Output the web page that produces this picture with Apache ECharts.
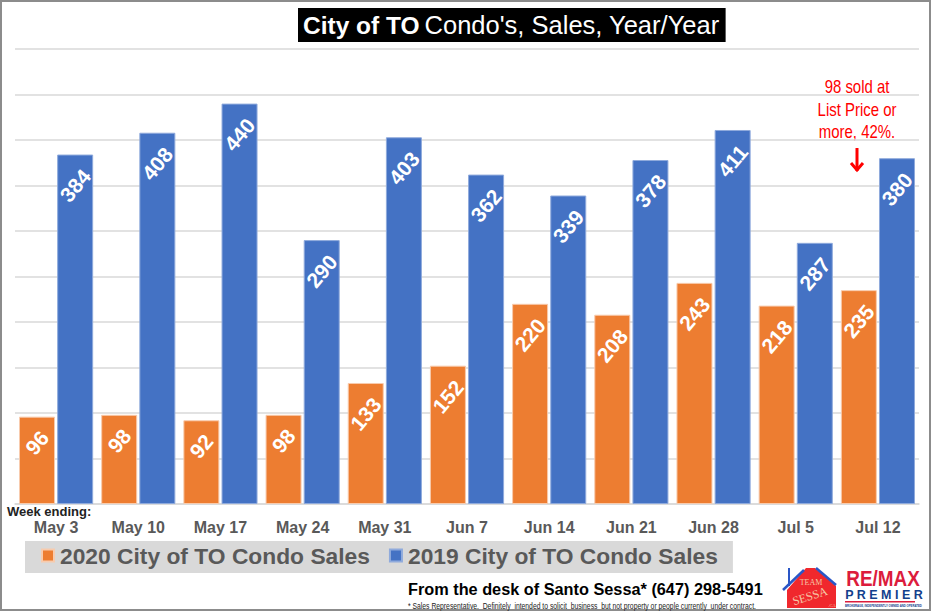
<!DOCTYPE html>
<html>
<head>
<meta charset="utf-8">
<style>
html, body { margin: 0; padding: 0; background: #fff; }
#chart { width: 932px; height: 612px; }
</style>
<script src="https://cdn.jsdelivr.net/npm/echarts@6/dist/echarts.min.js"></script>
</head>
<body>
<div id="chart"></div>
<script>
var weeks = ['May 3', 'May 10', 'May 17', 'May 24', 'May 31', 'Jun 7', 'Jun 14', 'Jun 21', 'Jun 28', 'Jul 5', 'Jul 12'];
var sales2020 = [96, 98, 92, 98, 133, 152, 220, 208, 243, 218, 235];
var sales2019 = [384, 408, 440, 290, 403, 362, 339, 378, 411, 287, 380];
var name2020 = '2020 City of TO Condo Sales';
var name2019 = '2019 City of TO Condo Sales';
var noteLines = ['98 sold at', 'List Price or', 'more, 42%.'];

var font = '"Liberation Sans", Arial, sans-serif';
var serif = '"Liberation Serif", serif';
var chart = echarts.init(document.getElementById('chart'), null, { renderer: 'svg' });

function barLabel() {
    return {
        show: true,
        position: 'insideTop',
        distance: 31,
        rotate: 50,
        align: 'center',
        verticalAlign: 'middle',
        color: '#fff',
        fontFamily: font,
        fontWeight: 'bold',
        fontSize: 21
    };
}

// two digit labels sit closer to the bar top
function barData(values) {
    return values.map(function (v) {
        return v < 100 ? { value: v, label: { distance: 26 } } : v;
    });
}

// squeeze is a horizontal scale, the reference text is narrower than Liberation Sans
function text(x, y, str, size, color, weight, align, family, squeeze) {
    return {
        type: 'text', x: x, y: y, scaleX: squeeze || 1,
        style: {
            text: str, fill: color, fontSize: size, fontFamily: family || font,
            fontWeight: weight || 'normal', align: align || 'left', verticalAlign: 'middle'
        }
    };
}

var graphics = [
    // outer frame
    { type: 'rect', shape: { x: 1, y: 1, width: 929, height: 609 }, style: { fill: 'none', stroke: '#8c8c8c', lineWidth: 2 } },
    text(7, 511, 'Week ending:', 13, '#222', 'bold'),
    // red note and arrow
    text(857, 87, noteLines[0], 18, '#ff0000', 'normal', 'center', font, 0.83),
    text(857, 110, noteLines[1], 18, '#ff0000', 'normal', 'center', font, 0.83),
    text(857, 132, noteLines[2], 18, '#ff0000', 'normal', 'center', font, 0.83),
    { type: 'polyline', shape: { points: [[857, 148], [857, 171]] }, style: { stroke: '#ff0000', lineWidth: 3, fill: 'none' } },
    { type: 'polyline', shape: { points: [[851, 163], [857, 170], [863, 163]] }, style: { stroke: '#ff0000', lineWidth: 3, fill: 'none' } },
    // footer
    text(408, 589, 'From the desk of Santo Sessa* (647) 298-5491', 16.3, '#000', 'bold'),
    text(408, 606, '* Sales Representative.  Definitely  intended to solicit  business  but not property or people currently  under contract.', 8.2, '#222', 'normal', 'left', font, 0.83),
    // team logo
    { type: 'polygon', shape: { points: [[787, 590], [806, 568], [815, 568], [836, 586], [836, 608], [787, 608]] }, style: { fill: '#f0282d' } },
    { type: 'polyline', shape: { points: [[783, 590], [804, 570]] }, style: { stroke: '#2a56c6', lineWidth: 2.5, fill: 'none' } },
    { type: 'polyline', shape: { points: [[816, 568], [836, 585]] }, style: { stroke: '#2a56c6', lineWidth: 2.5, fill: 'none' } },
    { type: 'line', shape: { x1: 789, y1: 568, x2: 789, y2: 586 }, style: { stroke: '#2a56c6', lineWidth: 2 } },
    text(811, 582, 'TEAM', 8, '#f6c8a8', 'normal', 'center', serif),
    { type: 'text', x: 810, y: 596, rotation: 0.3, style: { text: 'SESSA', fill: '#f6c8a8', fontSize: 12, fontFamily: serif, align: 'center', verticalAlign: 'middle' } },
    text(832, 605, '.CA', 4.5, '#f6c8a8', 'normal', 'center', serif),
    // remax logo
    text(883, 578, 'RE/MAX', 22, '#dc1c3c', 'bold', 'center', font, 0.86),
    text(884, 595, 'P R E M I E R', 12.5, '#12408c', 'bold', 'center'),
    { type: 'rect', shape: { x: 845, y: 601, width: 70, height: 1.5 }, style: { fill: '#dc1c3c' } },
    text(845, 605.5, 'BROKERAGE, INDEPENDENTLY OWNED AND OPERATED', 3.4, '#12408c', 'bold', 'left', font, 0.82)
];

var option = {
    animation: false,
    backgroundColor: '#fff',
    title: {
        left: 298,
        top: 9,
        padding: [4, 6, 4, 5],
        backgroundColor: '#000',
        text: '{a|City of TO} {b|Condo\'s, Sales, Year/Year}',
        textStyle: {
            rich: {
                a: { color: '#fff', fontFamily: font, fontWeight: 'bold', fontSize: 24.5, lineHeight: 24 },
                b: { color: '#fff', fontFamily: font, fontWeight: 'normal', fontSize: 25.5, lineHeight: 24 }
            }
        }
    },
    legend: {
        left: 25,
        top: 541,
        padding: [3, 15, 6, 16],
        backgroundColor: '#d9d9d9',
        itemWidth: 12,
        itemHeight: 12,
        itemGap: 19,
        icon: 'rect',
        textStyle: { color: '#595959', fontFamily: font, fontWeight: 'bold', fontSize: 22.8, padding: [0, 0, 0, 1] },
        data: [name2020, name2019]
    },
    grid: { left: 15, right: 13, top: 49, bottom: 108 },
    xAxis: {
        type: 'category',
        data: weeks,
        axisTick: { show: false },
        axisLine: { lineStyle: { color: '#d9d9d9', width: 1.5 } },
        axisLabel: { interval: 0, color: '#595959', fontFamily: font, fontWeight: 'bold', fontSize: 16, margin: 15 }
    },
    yAxis: {
        type: 'value',
        min: 0,
        max: 500,
        interval: 50,
        axisLabel: { show: false },
        axisLine: { show: false },
        axisTick: { show: false },
        splitLine: { lineStyle: { color: '#d9d9d9', width: 1.5 } }
    },
    series: [
        { name: name2020, type: 'bar', data: barData(sales2020), barWidth: 36, barGap: '6%', itemStyle: { color: '#ed7d31', borderColor: '#f8cbad', borderWidth: 1 }, label: barLabel() },
        { name: name2019, type: 'bar', data: barData(sales2019), barWidth: 36, itemStyle: { color: '#4472c4', borderColor: '#8faadc', borderWidth: 1 }, label: barLabel() }
    ],
    graphic: graphics
};

chart.setOption(option);
</script>
</body>
</html>
